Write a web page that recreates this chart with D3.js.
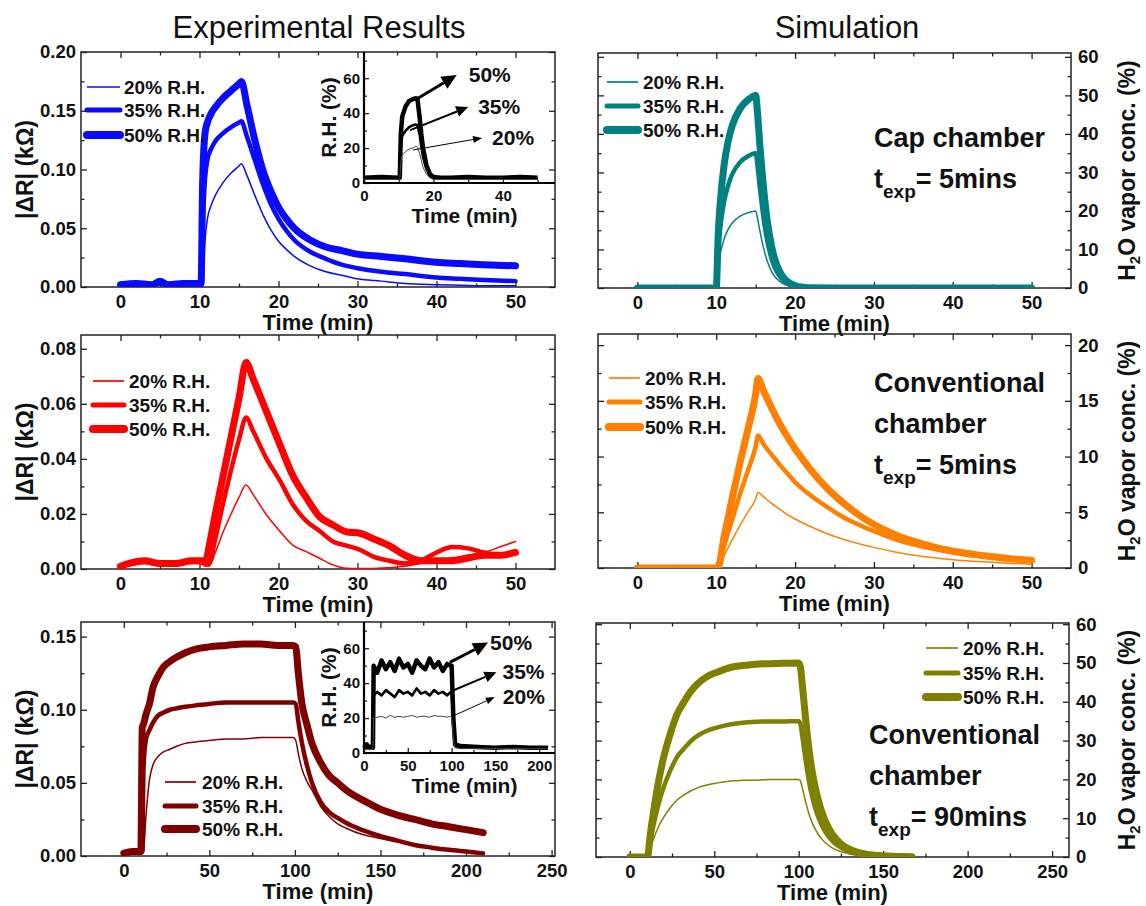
<!DOCTYPE html>
<html>
<head>
<meta charset="utf-8">
<script src="https://cdn.jsdelivr.net/npm/d3@7"></script>
<style>
  body { margin: 0; background: #fff; }
  svg text { font-family: "Liberation Sans", Arial, Helvetica, sans-serif; }
</style>
</head>
<body>
<svg id="chart" width="1146" height="906"></svg>
<script>
// ---- data ----
const legendLabels = ['20% R.H.', '35% R.H.', '50% R.H.'];

// cap chamber, experiment (|dR| kOhm)
const capExpTime = [0, 2, 4, 5, 6, 8, 10, 10.2, 10.4, 10.7, 11, 11.5, 12, 13, 14, 15, 15.3, 16, 17, 18, 19, 20, 21, 22, 24, 26, 28, 30, 33, 36, 40, 43, 46, 50];
const capExp20 = [0.001, 0.001, 0.001, 0.002, 0.001, 0.001, 0.001, 0.001, 0.002, 0.040, 0.058, 0.070, 0.078, 0.089, 0.097, 0.103, 0.105, 0.095, 0.078, 0.062, 0.049, 0.039, 0.032, 0.026, 0.018, 0.013, 0.010, 0.007, 0.005, 0.003, 0.002, 0.0015, 0.001, 0.001];
const capExp35 = [0.002, 0.002, 0.002, 0.003, 0.002, 0.002, 0.002, 0.002, 0.050, 0.092, 0.108, 0.118, 0.124, 0.131, 0.136, 0.140, 0.141, 0.128, 0.108, 0.088, 0.071, 0.058, 0.048, 0.040, 0.030, 0.024, 0.019, 0.016, 0.013, 0.011, 0.008, 0.007, 0.006, 0.005];
const capExp50 = [0.002, 0.003, 0.002, 0.005, 0.002, 0.003, 0.003, 0.003, 0.090, 0.131, 0.140, 0.148, 0.153, 0.161, 0.167, 0.173, 0.175, 0.155, 0.125, 0.100, 0.082, 0.068, 0.058, 0.050, 0.040, 0.034, 0.031, 0.028, 0.026, 0.024, 0.021, 0.020, 0.019, 0.018];

// cap chamber inset, R.H. (%)
const capRhTime = [0, 5, 10, 10.3, 10.6, 11, 12, 13, 14, 15, 15.4, 16, 16.5, 17, 18, 19, 20, 22, 25, 30, 35, 40, 45, 50];
const capRh20 = [2, 2, 2, 2, 12, 16, 18, 19.5, 20, 21, 20.5, 17, 13, 9, 5, 3, 2, 2, 2, 2, 2, 2, 2, 2];
const capRh35 = [3, 3, 3, 3, 22, 27, 30, 32, 33, 33.5, 33, 28, 21, 15, 8, 4, 3, 2.5, 2.5, 2.5, 2.5, 2.5, 2.5, 2.5];
const capRh50 = [3, 3.5, 3, 3, 28, 38, 44, 47, 48, 48.5, 48, 38, 28, 20, 10, 5, 3.5, 3, 3, 3.5, 3, 3, 3.5, 3];

// cap chamber, simulation (H2O %)
const capSimTime = [0, 10, 10.25, 10.5, 11, 11.5, 12, 13, 14, 15, 15.25, 15.5, 16, 16.5, 17, 17.5, 18, 18.5, 19, 20, 21, 22, 25, 50];
const capSim20 = [0, 0, 5.6, 8.8, 12.8, 15.2, 16.8, 18.6, 19.5, 20, 18, 15.2, 10.4, 6.8, 4.4, 2.8, 1.8, 1.1, 0.7, 0.25, 0.08, 0.02, 0, 0];
const capSim35 = [0, 0, 9.8, 15.4, 22.4, 26.6, 29.4, 32.6, 34.2, 35, 31.5, 26.6, 18.2, 11.9, 7.7, 4.9, 3.2, 2, 1.2, 0.4, 0.15, 0.03, 0, 0];
const capSim50 = [0, 0, 14, 22, 32, 38, 42, 46.5, 48.8, 50, 45, 38, 26, 17, 11, 7, 4.5, 2.8, 1.7, 0.6, 0.2, 0.05, 0, 0];

// conventional chamber 5 min, experiment
const convExpTime = [0, 1, 3, 5, 7, 9, 10, 10.8, 11.2, 12, 13, 14, 15, 15.9, 16.8, 18.5, 20.2, 21.8, 23.5, 25.2, 26.9, 28.6, 30.3, 32, 34, 36, 38, 40, 42, 44, 46, 48, 50];
const convExp20 = [0.0005, 0.001, 0.002, 0.001, 0.001, 0.002, 0.002, 0.001, 0.001, 0.006, 0.0135, 0.020, 0.026, 0.0305, 0.027, 0.0196, 0.0136, 0.0087, 0.0063, 0.0039, 0.0015, 0.0003, 0.0002, 0.0002, 0.0005, 0.001, 0.002, 0.003, 0.004, 0.005, 0.006, 0.008, 0.010];
const convExp35 = [0.001, 0.002, 0.003, 0.002, 0.002, 0.003, 0.003, 0.002, 0.002, 0.011, 0.024, 0.036, 0.047, 0.055, 0.050, 0.040, 0.032, 0.0235, 0.0175, 0.0138, 0.010, 0.0085, 0.007, 0.0045, 0.003, 0.002, 0.003, 0.006, 0.008, 0.0075, 0.006, 0.005, 0.006];
const convExp50 = [0.001, 0.002, 0.003, 0.002, 0.002, 0.003, 0.003, 0.003, 0.008, 0.020, 0.034, 0.048, 0.062, 0.075, 0.069, 0.057, 0.045, 0.034, 0.026, 0.019, 0.016, 0.0135, 0.013, 0.011, 0.0085, 0.005, 0.003, 0.003, 0.003, 0.004, 0.005, 0.005, 0.006];

// conventional chamber 5 min, simulation
const convSimTime = [0, 5, 10, 10.2, 11, 12, 13, 14, 15, 15.3, 16, 17, 18, 19, 20, 22, 24, 26, 28, 30, 33, 36, 40, 44, 47, 50];
const convSim20 = [0, 0, 0, 0, 1.1, 2.5, 3.8, 5.0, 6.2, 6.8, 6.4, 5.8, 5.3, 4.8, 4.4, 3.7, 3.1, 2.6, 2.2, 1.85, 1.4, 1.05, 0.75, 0.55, 0.43, 0.34];
const convSim35 = [0, 0, 0, 0, 2.0, 4.3, 6.6, 8.7, 10.9, 11.9, 11.1, 10.2, 9.3, 8.5, 7.7, 6.5, 5.5, 4.6, 3.9, 3.3, 2.5, 1.95, 1.4, 1.0, 0.8, 0.62];
const convSim50 = [0, 0, 0, 0, 2.8, 6.2, 9.4, 12.4, 15.6, 17, 15.9, 14.4, 13.0, 11.8, 10.7, 8.8, 7.2, 5.9, 4.8, 3.9, 2.9, 2.2, 1.5, 1.1, 0.85, 0.7];

// conventional chamber 90 min, experiment
const longExpTime = [0, 5, 10, 10.8, 11.5, 13, 15, 17, 20, 23, 27, 31, 36, 42, 50, 60, 70, 80, 90, 99, 100.5, 102, 104, 107, 110, 115, 120, 125, 130, 140, 150, 160, 170, 180, 190, 200, 210];
const longExp20 = [0.002, 0.002, 0.002, 0.002, 0.003, 0.028, 0.052, 0.062, 0.068, 0.071, 0.073, 0.075, 0.077, 0.078, 0.079, 0.080, 0.080, 0.081, 0.081, 0.081, 0.079, 0.070, 0.060, 0.051, 0.045, 0.034, 0.027, 0.022, 0.019, 0.0145, 0.012, 0.0095, 0.007, 0.0052, 0.0038, 0.0026, 0.0015];
const longExp35 = [0.002, 0.003, 0.003, 0.003, 0.060, 0.080, 0.086, 0.091, 0.096, 0.098, 0.100, 0.101, 0.102, 0.103, 0.104, 0.105, 0.105, 0.105, 0.105, 0.105, 0.104, 0.092, 0.078, 0.062, 0.050, 0.037, 0.030, 0.026, 0.0225, 0.0175, 0.0135, 0.0105, 0.0075, 0.0057, 0.0042, 0.003, 0.0018];
const longExp50 = [0.002, 0.003, 0.003, 0.088, 0.090, 0.097, 0.104, 0.115, 0.123, 0.129, 0.133, 0.136, 0.139, 0.1415, 0.143, 0.144, 0.145, 0.145, 0.144, 0.144, 0.143, 0.125, 0.105, 0.090, 0.077, 0.064, 0.055, 0.050, 0.045, 0.038, 0.032, 0.028, 0.025, 0.022, 0.020, 0.018, 0.016];

// conventional chamber 90 min inset, R.H. (%)
const longRhTime = [0, 3, 6, 9, 10.2, 11, 15, 20, 25, 30, 35, 40, 45, 50, 55, 60, 65, 70, 75, 80, 85, 90, 95, 99, 100, 102, 104, 110, 130, 150, 170, 190, 210];
const longRh20 = [2, 2, 2, 2, 2, 20, 20.5, 21, 20, 21.5, 20.5, 21, 20.5, 21, 21.5, 20.5, 21, 21, 20.5, 21.5, 21, 21, 20.5, 21, 21, 8, 3, 2.5, 2.5, 2.5, 2.5, 2.5, 2.5];
const longRh35 = [3, 3, 3, 3, 3, 33, 35, 33, 36, 34, 32, 36, 34, 35, 33, 37, 34, 35, 33, 36, 34, 35, 33, 35, 35, 14, 4, 3, 3, 3, 3, 3, 3];
const longRh50 = [3, 5, 3, 4, 3, 50, 46, 53, 48, 52, 47, 54, 49, 51, 46, 53, 50, 48, 54, 49, 52, 47, 51, 50, 50, 20, 5, 4, 3.5, 3, 3.5, 3, 3];

// conventional chamber 90 min, simulation
const longSimTime = [0, 10, 10.5, 12, 14, 17, 20, 24, 28, 32, 36, 40, 45, 52, 60, 70, 80, 90, 100, 101, 102, 104, 106, 108, 110, 113, 116, 120, 125, 130, 135, 140, 150, 160, 167];
const longSim20 = [0, 0, 0, 2.1, 4.6, 7.8, 10.2, 12.7, 14.7, 16.0, 17.0, 17.8, 18.5, 19.1, 19.6, 19.8, 19.9, 20, 20, 19.6, 18, 14.4, 11.2, 8.8, 7, 5, 3.6, 2.3, 1.4, 0.8, 0.5, 0.3, 0.12, 0.05, 0.02];
const longSim35 = [0, 0, 0, 3.7, 8.1, 13.6, 17.9, 22.3, 25.8, 27.9, 29.8, 31.2, 32.4, 33.4, 34.2, 34.7, 34.9, 34.9, 35, 34.3, 31.5, 25.2, 19.6, 15.4, 12.3, 8.8, 6.3, 4.1, 2.4, 1.4, 0.84, 0.53, 0.21, 0.08, 0.04];
const longSim50 = [0, 0, 0, 5.3, 11.5, 19.4, 25.6, 31.8, 36.8, 39.9, 42.6, 44.6, 46.3, 47.7, 48.9, 49.5, 49.8, 49.9, 50, 49, 45, 36, 28, 22, 17.5, 12.5, 9, 5.8, 3.4, 2.0, 1.2, 0.75, 0.3, 0.12, 0.05];

// inset arrow annotations: [label, x0, y0, x1, y1] in inset data units
const capArrows = [['50%', 14.7, 47.5, 26.7, 61.8], ['35%', 13.3, 30.3, 30, 43.5], ['20%', 14.1, 18.9, 34, 25.8]];
const longArrows = [['50%', 98, 51.9, 141.6, 63.2], ['35%', 101.6, 35.8, 151.2, 46.2], ['20%', 103.5, 21.6, 149.3, 32]];

// ---- drawing ----
const svg = d3.select('#chart');
const FONT = '"Liberation Sans", Arial, Helvetica, sans-serif';
const lineW = [1.5, 4.5, 7];
const legendW = [1.7, 5, 8];
let clipCount = 0;

const zip = (t, v) => t.map((d, i) => [d, v[i]]);

const addAxis = (axis, tx, ty, size) => {
  const a = svg.append('g')
    .attr('transform', `translate(${tx},${ty})`)
    .call(axis);
  a.select('.domain').remove();
  a.attr('font-family', FONT).attr('font-size', size).attr('font-weight', 'bold');
  a.selectAll('line').attr('stroke', '#222').attr('stroke-width', 1.3);
  a.selectAll('text').attr('fill', '#111');
  return a;
};

function drawPanel(p) {
  const x = d3.scaleLinear().domain(p.xDomain).range([p.left, p.right]);
  const y = d3.scaleLinear().domain(p.yDomain).range([p.bottom, p.top]);
  const maj = 6, mnr = 3.5;

  // ticks on all four sides, pointing inward
  addAxis(d3.axisBottom(x).tickValues(p.xMajor).tickSize(-maj).tickPadding(8).tickFormat(d3.format('d')), 0, p.bottom, 18.5);
  addAxis(d3.axisBottom(x).tickValues(p.xMinor).tickSize(-mnr).tickFormat(''), 0, p.bottom, 18);
  addAxis(d3.axisTop(x).tickValues(p.xMajor).tickSize(-maj).tickFormat(''), 0, p.top, 18);
  addAxis(d3.axisTop(x).tickValues(p.xMinor).tickSize(-mnr).tickFormat(''), 0, p.top, 18);
  const leftFmt = p.ySide === 'left' ? p.yFormat : '';
  const rightFmt = p.ySide === 'right' ? p.yFormat : '';
  addAxis(d3.axisLeft(y).tickValues(p.yMajor).tickSize(-maj).tickPadding(5).tickFormat(leftFmt), p.left, 0, 18.5);
  addAxis(d3.axisLeft(y).tickValues(p.yMinor).tickSize(-mnr).tickFormat(''), p.left, 0, 18);
  addAxis(d3.axisRight(y).tickValues(p.yMajor).tickSize(-maj).tickPadding(7).tickFormat(rightFmt), p.right, 0, 18.5);
  addAxis(d3.axisRight(y).tickValues(p.yMinor).tickSize(-mnr).tickFormat(''), p.right, 0, 18);

  svg.append('rect')
    .attr('x', p.left).attr('y', p.top)
    .attr('width', p.right - p.left).attr('height', p.bottom - p.top)
    .attr('fill', 'none').attr('stroke', '#222').attr('stroke-width', 1.5);

  const clipId = 'clip' + (clipCount++);
  svg.append('clipPath').attr('id', clipId).append('rect')
    .attr('x', p.left).attr('y', p.top)
    .attr('width', p.right - p.left).attr('height', p.bottom - p.top);

  const line = d3.line().curve(d3.curveMonotoneX).x(d => x(d[0])).y(d => y(d[1]));
  const g = svg.append('g').attr('clip-path', `url(#${clipId})`);
  // widest first so the thin curves stay visible
  [2, 1, 0].forEach(i => {
    g.append('path')
      .datum(zip(p.time, p.series[i]))
      .attr('d', line)
      .attr('fill', 'none')
      .attr('stroke', p.color)
      .attr('stroke-width', lineW[i])
      .attr('stroke-linejoin', 'round')
      .attr('stroke-linecap', 'round');
  });

  // legend
  legendLabels.forEach((lab, i) => {
    const ly = p.legend.ys[i];
    svg.append('line')
      .attr('x1', p.legend.x1).attr('x2', p.legend.x2)
      .attr('y1', ly).attr('y2', ly)
      .attr('stroke', p.color).attr('stroke-width', legendW[i])
      .attr('stroke-linecap', i === 0 ? 'butt' : 'round');
    svg.append('text')
      .attr('x', p.legend.tx).attr('y', ly + 7)
      .attr('font-size', 19).attr('font-weight', 'bold').attr('fill', '#111')
      .text(lab);
  });

  // x axis title
  svg.append('text')
    .attr('x', (p.left + p.right) / 2).attr('y', p.bottom + 43)
    .attr('text-anchor', 'middle')
    .attr('font-size', 22).attr('font-weight', 'bold').attr('fill', '#111')
    .text('Time (min)');

  // y axis title
  const cy = (p.top + p.bottom) / 2;
  if (p.ySide === 'left') {
    svg.append('text')
      .attr('transform', `translate(25,${cy}) rotate(-90)`)
      .attr('text-anchor', 'middle').attr('dominant-baseline', 'central')
      .attr('font-size', 23).attr('font-weight', 'bold').attr('fill', '#111')
      .text('|ΔR| (kΩ)');
  } else {
    const t = svg.append('text')
      .attr('transform', `translate(1127,${cy}) rotate(-90)`)
      .attr('text-anchor', 'middle').attr('dominant-baseline', 'central')
      .attr('font-size', 23).attr('font-weight', 'bold').attr('fill', '#111');
    t.append('tspan').text('H');
    t.append('tspan').attr('font-size', 15).attr('dy', 7).text('2');
    t.append('tspan').attr('dy', -7).text('O vapor conc. (%)');
  }

  // chamber annotation
  if (p.note) {
    p.note.lines.forEach((s, i) => {
      svg.append('text')
        .attr('x', p.note.x).attr('y', p.note.y + i * 41)
        .attr('font-size', 27).attr('font-weight', 'bold').attr('fill', '#111')
        .text(s);
    });
    const t = svg.append('text')
      .attr('x', p.note.x).attr('y', p.note.y + p.note.lines.length * 41)
      .attr('font-size', 27).attr('font-weight', 'bold').attr('fill', '#111');
    t.append('tspan').text('t');
    t.append('tspan').attr('font-size', 19).attr('dy', 10).text('exp');
    t.append('tspan').attr('dy', -10).text('= ' + p.note.texp);
  }
}

function drawInset(p) {
  const x = d3.scaleLinear().domain(p.xDomain).range([p.left, p.right]);
  const y = d3.scaleLinear().domain(p.yDomain).range([p.bottom, p.top]);

  addAxis(d3.axisBottom(x).tickValues(p.xMajor).tickSize(-5).tickPadding(7).tickFormat(d3.format('d')), 0, p.bottom, 15);
  addAxis(d3.axisBottom(x).tickValues(p.xMinor).tickSize(-3).tickFormat(''), 0, p.bottom, 15);
  addAxis(d3.axisLeft(y).tickValues([0, 20, 40, 60]).tickSize(-5).tickPadding(4).tickFormat(d3.format('d')), p.left, 0, 15);
  addAxis(d3.axisLeft(y).tickValues([10, 30, 50, 70]).tickSize(-3).tickFormat(''), p.left, 0, 15);

  svg.append('path')
    .attr('d', `M${p.left},${p.top}V${p.bottom}H${p.right}`)
    .attr('fill', 'none').attr('stroke', '#000').attr('stroke-width', 2.2);

  const line = d3.line().x(d => x(d[0])).y(d => y(d[1]));
  const widths = [1, 2.6, 4.5];
  const colors = ['#444', '#000', '#000'];
  [2, 1, 0].forEach(i => {
    svg.append('path')
      .datum(zip(p.time, p.series[i]))
      .attr('d', line)
      .attr('fill', 'none')
      .attr('stroke', colors[i])
      .attr('stroke-width', widths[i])
      .attr('stroke-linejoin', 'round');
  });

  // arrows with labels
  const aw = { '50%': [3, 15, 7], '35%': [2, 12, 5.5], '20%': [1, 9, 3.5] };
  p.arrows.forEach(([lab, x0, y0, x1, y1]) => {
    const [w, len, half] = aw[lab];
    const sx = x(x0), sy = y(y0), ex = x(x1), ey = y(y1);
    const ang = Math.atan2(ey - sy, ex - sx);
    const bx = ex - len * Math.cos(ang), by = ey - len * Math.sin(ang);
    svg.append('line')
      .attr('x1', sx).attr('y1', sy).attr('x2', bx).attr('y2', by)
      .attr('stroke', '#000').attr('stroke-width', w);
    const nx = -Math.sin(ang) * half, ny = Math.cos(ang) * half;
    svg.append('path')
      .attr('d', `M${ex},${ey}L${bx + nx},${by + ny}L${bx - nx},${by - ny}Z`)
      .attr('fill', '#000');
    svg.append('text')
      .attr('x', ex + p.labelDx[lab]).attr('y', ey + 7)
      .attr('font-size', 21).attr('font-weight', 'bold').attr('fill', '#111')
      .text(lab);
  });

  svg.append('text')
    .attr('x', (p.left + p.right) / 2 + 5).attr('y', p.bottom + 40)
    .attr('text-anchor', 'middle')
    .attr('font-size', 21).attr('font-weight', 'bold').attr('fill', '#111')
    .text('Time (min)');
  svg.append('text')
    .attr('transform', `translate(328,${(p.top + p.bottom) / 2}) rotate(-90)`)
    .attr('text-anchor', 'middle').attr('dominant-baseline', 'central')
    .attr('font-size', 21).attr('font-weight', 'bold').attr('fill', '#111')
    .text('R.H. (%)');
}

// titles
svg.append('text').attr('x', 319).attr('y', 38).attr('text-anchor', 'middle')
  .attr('font-size', 31).attr('fill', '#111').text('Experimental Results');
svg.append('text').attr('x', 847).attr('y', 38).attr('text-anchor', 'middle')
  .attr('font-size', 31).attr('fill', '#111').text('Simulation');

const fmt2 = d3.format('.2f');
const fmtInt = d3.format('d');
const short = { xDomain: [-5, 55], xMajor: [0, 10, 20, 30, 40, 50], xMinor: [5, 15, 25, 35, 45] };

drawPanel({ ...short, left: 81, right: 555, top: 52, bottom: 287,
  yDomain: [0, 0.2], yMajor: [0, 0.05, 0.1, 0.15, 0.2], yMinor: [0.025, 0.075, 0.125, 0.175],
  yFormat: fmt2, ySide: 'left', color: '#0a0aff',
  time: capExpTime, series: [capExp20, capExp35, capExp50],
  legend: { x1: 87, x2: 120, tx: 124, ys: [87, 110, 135] } });

drawInset({ left: 364, right: 555, top: 52, bottom: 183,
  xDomain: [0, 55], yDomain: [0, 75], xMajor: [0, 20, 40], xMinor: [10, 30, 50],
  time: capRhTime, series: [capRh20, capRh35, capRh50], arrows: capArrows,
  labelDx: { '50%': 12, '35%': 10, '20%': 10 } });

drawPanel({ ...short, left: 598, right: 1071, top: 53, bottom: 288,
  yDomain: [0, 61], yMajor: [0, 10, 20, 30, 40, 50, 60], yMinor: [5, 15, 25, 35, 45, 55],
  yFormat: fmtInt, ySide: 'right', color: '#008080',
  time: capSimTime, series: [capSim20, capSim35, capSim50],
  legend: { x1: 607, x2: 638, tx: 643, ys: [82, 106, 130] },
  note: { x: 874, y: 147, lines: ['Cap chamber'], texp: '5mins' } });

drawPanel({ ...short, left: 81, right: 555, top: 335, bottom: 569,
  yDomain: [0, 0.085], yMajor: [0, 0.02, 0.04, 0.06, 0.08], yMinor: [0.01, 0.03, 0.05, 0.07],
  yFormat: fmt2, ySide: 'left', color: '#ff0000',
  time: convExpTime, series: [convExp20, convExp35, convExp50],
  legend: { x1: 93, x2: 124, tx: 129, ys: [381, 405, 429] } });

drawPanel({ ...short, left: 598, right: 1071, top: 334, bottom: 568,
  yDomain: [0, 21], yMajor: [0, 5, 10, 15, 20], yMinor: [2.5, 7.5, 12.5, 17.5],
  yFormat: fmtInt, ySide: 'right', color: '#ff8000',
  time: convSimTime, series: [convSim20, convSim35, convSim50],
  legend: { x1: 609, x2: 640, tx: 645, ys: [378, 402, 427] },
  note: { x: 874, y: 392, lines: ['Conventional', 'chamber'], texp: '5mins' } });

drawPanel({ left: 81, right: 555, top: 622, bottom: 856,
  xDomain: [-25, 252], xMajor: [0, 50, 100, 150, 200, 250], xMinor: [25, 75, 125, 175, 225],
  yDomain: [0, 0.16], yMajor: [0, 0.05, 0.1, 0.15], yMinor: [0.025, 0.075, 0.125],
  yFormat: fmt2, ySide: 'left', color: '#800000',
  time: longExpTime, series: [longExp20, longExp35, longExp50],
  legend: { x1: 165, x2: 196, tx: 202, ys: [782, 806, 829] } });

drawInset({ left: 364, right: 555, top: 622, bottom: 753,
  xDomain: [0, 218], yDomain: [0, 75], xMajor: [0, 50, 100, 150, 200], xMinor: [25, 75, 125, 175],
  time: longRhTime, series: [longRh20, longRh35, longRh50], arrows: longArrows,
  labelDx: { '50%': 2, '35%': 6, '20%': 8 } });

drawPanel({ left: 596, right: 1069, top: 623, bottom: 857,
  xDomain: [-20, 260], xMajor: [0, 50, 100, 150, 200, 250], xMinor: [25, 75, 125, 175, 225],
  yDomain: [0, 60.3], yMajor: [0, 10, 20, 30, 40, 50, 60], yMinor: [5, 15, 25, 35, 45, 55],
  yFormat: fmtInt, ySide: 'right', color: '#808000',
  time: longSimTime, series: [longSim20, longSim35, longSim50],
  legend: { x1: 926, x2: 958, tx: 963, ys: [648, 673, 697] },
  note: { x: 869, y: 744, lines: ['Conventional', 'chamber'], texp: '90mins' } });
</script>
</body>
</html>
